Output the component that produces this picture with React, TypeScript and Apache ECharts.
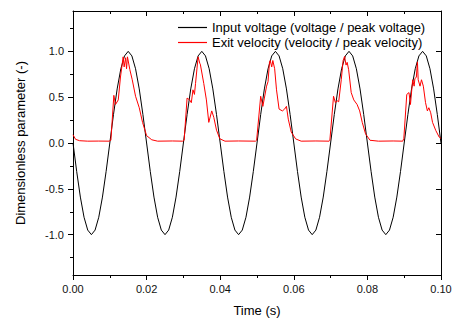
import React, { useEffect, useRef } from "react";
import * as echarts from "echarts";

const timeStep = 0.001;

const inputVoltage: number[] = [
  0, -0.31, -0.59, -0.81, -0.95, -1.0, -0.95, -0.81, -0.59, -0.31,
  0, 0.31, 0.59, 0.81, 0.95, 1.0, 0.95, 0.81, 0.59, 0.31,
  0, -0.31, -0.59, -0.81, -0.95, -1.0, -0.95, -0.81, -0.59, -0.31,
  0, 0.31, 0.59, 0.81, 0.95, 1.0, 0.95, 0.81, 0.59, 0.31,
  0, -0.31, -0.59, -0.81, -0.95, -1.0, -0.95, -0.81, -0.59, -0.31,
  0, 0.31, 0.59, 0.81, 0.95, 1.0, 0.95, 0.81, 0.59, 0.31,
  0, -0.31, -0.59, -0.81, -0.95, -1.0, -0.95, -0.81, -0.59, -0.31,
  0, 0.31, 0.59, 0.81, 0.95, 1.0, 0.95, 0.81, 0.59, 0.31,
  0, -0.31, -0.59, -0.81, -0.95, -1.0, -0.95, -0.81, -0.59, -0.31,
  0, 0.31, 0.59, 0.81, 0.95, 1.0, 0.95, 0.81, 0.59, 0.31,
  0,
];

const exitVelocity: [number, number][] = [
  [0, 0.09], [0.0007, 0.04], [0.0018, 0.025], [0.004, 0.02], [0.007, 0.021], [0.0098, 0.02],
  [0.0103, 0.03], [0.0111, 0.52], [0.01155, 0.42], [0.0123, 0.47], [0.0129, 0.72], [0.01363, 0.94],
  [0.0139, 0.83], [0.0143, 0.93], [0.01455, 0.81], [0.0148, 0.94], [0.01545, 0.8], [0.0161, 0.69],
  [0.017, 0.51], [0.018, 0.385], [0.0189, 0.225], [0.02, 0.08], [0.0214, 0.035], [0.023, 0.02],
  [0.027, 0.022], [0.0298, 0.02],
  [0.0302, 0.03], [0.031, 0.49], [0.0317, 0.47], [0.03215, 0.44], [0.0326, 0.58], [0.033, 0.53],
  [0.0333, 0.65], [0.034, 0.94], [0.03445, 0.87], [0.0346, 0.86], [0.03553, 0.65], [0.03625, 0.47],
  [0.0369, 0.225], [0.0377, 0.35], [0.03826, 0.28], [0.039, 0.14], [0.0399, 0.046], [0.0413, 0.02],
  [0.045, 0.022], [0.0496, 0.02],
  [0.0499, 0.03], [0.051, 0.51], [0.0516, 0.4], [0.052, 0.49], [0.0526, 0.62], [0.053, 0.67],
  [0.0534, 0.885], [0.0536, 0.9], [0.054, 0.83], [0.0543, 0.9], [0.0548, 0.81], [0.0553, 0.58],
  [0.056, 0.37], [0.0569, 0.35], [0.0575, 0.37], [0.058, 0.4], [0.0585, 0.26], [0.0593, 0.12],
  [0.0605, 0.045], [0.062, 0.02], [0.066, 0.022], [0.0696, 0.02],
  [0.0698, 0.03], [0.0708, 0.51], [0.0713, 0.44], [0.0718, 0.46], [0.0722, 0.45], [0.0729, 0.69],
  [0.0734, 0.9], [0.0738, 0.945], [0.0742, 0.85], [0.0745, 0.88], [0.0749, 0.8], [0.0756, 0.55],
  [0.0763, 0.47], [0.0772, 0.42], [0.0779, 0.35], [0.0786, 0.225], [0.0795, 0.1], [0.0807, 0.03],
  [0.083, 0.02], [0.087, 0.022], [0.0896, 0.02],
  [0.0899, 0.05], [0.0907, 0.53], [0.0913, 0.55], [0.0917, 0.42], [0.0923, 0.69], [0.0927, 0.62],
  [0.0929, 0.7], [0.0933, 0.72], [0.0936, 0.885], [0.0938, 0.69], [0.0943, 0.62], [0.0947, 0.69],
  [0.0952, 0.62], [0.0958, 0.44], [0.0963, 0.35], [0.0967, 0.385], [0.0972, 0.33], [0.0977, 0.225],
  [0.0986, 0.135], [0.0995, 0.065], [0.1, 0.05],
];

const seriesNames = [
  "Input voltage (voltage / peak voltage)",
  "Exit velocity (velocity / peak velocity)",
];
const seriesColors = ["#000000", "#ff0000"];
const xMin = 0;
const xMax = 0.1;
const xInterval = 0.02;
const yMin = -1.44;
const yMax = 1.44;
const yMajorValues = [-1, -0.5, 0, 0.5, 1];
const yMinorValues = [-1.25, -0.75, -0.25, 0.25, 0.75, 1.25];
const xTitle = "Time (s)";
const yTitle = "Dimensionless parameter (-)";

const FONT = "Arial, 'Liberation Sans', sans-serif";

export default function App() {
  const ref = useRef<HTMLDivElement>(null);
  useEffect(() => {
    if (!ref.current) return;
    const chart = echarts.init(ref.current, undefined, { renderer: "svg" });
    const lineStyle = { color: "#000", width: 1 };
    const blackData = inputVoltage.map((v, i) => [+(i * timeStep).toFixed(4), v]);
    const xBase = {
      type: "value" as const,
      min: xMin,
      max: xMax,
      interval: xInterval,
      splitLine: { show: false },
      axisLine: { show: true, onZero: false, lineStyle },
    };
    const yBase = {
      type: "value" as const,
      min: yMin,
      max: yMax,
      splitLine: { show: false },
      axisLine: { show: true, onZero: false, lineStyle },
    };
    chart.setOption({
      animation: false,
      grid: { left: 73, right: 15, top: 11, bottom: 42, containLabel: false },
      legend: {
        left: 178,
        top: 21,
        orient: "vertical",
        padding: 0,
        itemWidth: 29,
        itemHeight: 1.2,
        itemGap: 2,
        textStyle: { fontSize: 13, fontFamily: FONT, color: "#000" },
        data: seriesNames.map((n, i) => ({
          name: n,
          icon: "rect",
          itemStyle: { color: seriesColors[i], borderWidth: 0 },
        })),
      },
      xAxis: [
        {
          ...xBase,
          position: "bottom",
          name: xTitle,
          nameLocation: "middle",
          nameGap: 29,
          nameTextStyle: { fontSize: 13, fontFamily: FONT, color: "#000" },
          axisTick: { show: true, inside: false, length: 5, lineStyle },
          minorTick: { show: true, splitNumber: 2, length: 3, lineStyle },
          axisLabel: {
            fontSize: 11,
            fontFamily: FONT,
            color: "#111",
            margin: 8,
            formatter: (v: number) => v.toFixed(2),
          },
        },
        {
          ...xBase,
          position: "top",
          axisTick: { show: true, inside: true, length: 5, lineStyle },
          minorTick: { show: true, splitNumber: 2, length: 3, lineStyle },
          axisLabel: { show: false },
        },
      ],
      yAxis: [
        {
          ...yBase,
          position: "left",
          name: yTitle,
          nameLocation: "middle",
          nameGap: 46,
          nameTextStyle: { fontSize: 13, fontFamily: FONT, color: "#000" },
          axisTick: { show: true, inside: false, length: 5, lineStyle, customValues: yMajorValues },
          axisLabel: {
            fontSize: 11,
            fontFamily: FONT,
            color: "#111",
            margin: 9,
            customValues: yMajorValues,
            formatter: (v: number) => v.toFixed(1),
          },
        },
        {
          ...yBase,
          position: "left",
          axisLine: { show: false },
          axisTick: { show: true, inside: false, length: 3, lineStyle, customValues: yMinorValues },
          axisLabel: { show: false },
        },
        {
          ...yBase,
          position: "right",
          axisTick: { show: true, inside: true, length: 5, lineStyle, customValues: yMajorValues },
          axisLabel: { show: false },
        },
        {
          ...yBase,
          position: "right",
          axisLine: { show: false },
          axisTick: { show: true, inside: true, length: 3, lineStyle, customValues: yMinorValues },
          axisLabel: { show: false },
        },
      ],
      series: [
        {
          name: seriesNames[0],
          type: "line",
          xAxisIndex: 0,
          yAxisIndex: 0,
          data: blackData,
          symbol: "none",
          lineStyle: { color: seriesColors[0], width: 1 },
          itemStyle: { color: seriesColors[0] },
        },
        {
          name: seriesNames[1],
          type: "line",
          xAxisIndex: 0,
          yAxisIndex: 0,
          data: exitVelocity,
          symbol: "none",
          lineStyle: { color: seriesColors[1], width: 1 },
          itemStyle: { color: seriesColors[1] },
        },
      ],
    });
    return () => chart.dispose();
  }, []);
  return (
    <div
      ref={ref}
      style={{ position: "absolute", left: 0, top: 0, width: 456, height: 322, background: "#fff" }}
    />
  );
}
